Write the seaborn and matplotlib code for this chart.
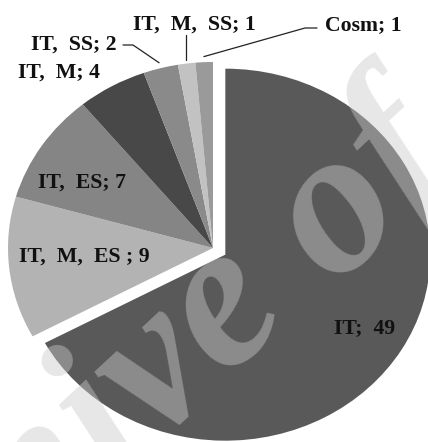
import numpy as np
import seaborn as sns
import matplotlib.pyplot as plt

# pie data
groups = ["IT", "IT,  M,  ES ", "IT,  ES", "IT,  M", "IT,  SS", "IT,  M,  SS", "Cosm"]
counts = [49, 9, 7, 4, 2, 1, 1]
shades = ["#595959", "#b3b3b3", "#858585", "#484848", "#8a8a8a", "#c2c2c2", "#9a9a9a"]
explode = [0.07, 0, 0, 0, 0, 0, 0]

sns.set_theme(style="white")
plt.rcParams['font.family'] = ['Liberation Serif', 'DejaVu Serif']

fig = plt.figure(figsize=(4.28, 4.42), dpi=100)
ax = fig.add_axes([0, 0, 1, 1])

wedges, _ = ax.pie(counts, colors=shades, explode=explode, startangle=90,
                   counterclock=False, radius=1, wedgeprops=dict(linewidth=0))

# pie is a little wider than tall in the picture
cx, cy, rx, ry = 213, 248, 205, 186
ax.set_aspect('auto')
ax.set_xlim(-cx / rx, (428 - cx) / rx)
ax.set_ylim(-(442 - cy) / ry, cy / ry)
ax.axis('off')


def px(x, y):
    return (x - cx) / rx, (cy - y) / ry


def edge(w, r=1.0):
    a = np.deg2rad((w.theta1 + w.theta2) / 2)
    return r * np.cos(a), r * np.sin(a)


font = dict(fontsize=15.7, fontweight='bold', color='#111111', zorder=5)
label_pos = [(365, 328), (84, 257), (82, 183), (59, 73), (74, 45), (194, 25), (363, 25)]
for g, n, (lx, ly) in zip(groups, counts, label_pos):
    sep = ";  " if g == "IT" else "; "
    ax.text(*px(lx, ly), f"{g}{sep}{n}", ha='center', va='center', **font)

# leader lines for the three thin slices
line = dict(color='#222222', lw=0.9, zorder=4)
p = edge(wedges[4], 1.03)
ax.plot([px(123, 45)[0], px(133, 45)[0], p[0]], [px(123, 45)[1], px(133, 45)[1], p[1]], **line)
p = edge(wedges[5], 1.02)
ax.plot([p[0], p[0]], [px(0, 35)[1], p[1]], **line)
p = edge(wedges[6], 1.03)
ax.plot([px(317, 28)[0], px(305, 28)[0], p[0]], [px(317, 28)[1], px(305, 28)[1], p[1]], **line)

# faint watermark across the picture, anchored just before "of"
wm = dict(fontsize=150, fontweight='bold', style='italic', color='#cacaca', alpha=0.45,
          rotation=43, rotation_mode='anchor', va='baseline', zorder=3)
ax_x, ax_y = 335 / 428, 1 - 288 / 442
fig.text(ax_x, ax_y, "Archive ", ha='right', **wm)
fig.text(ax_x, ax_y, "of SID", ha='left', **wm)

fig.savefig("out.png", dpi=100)
